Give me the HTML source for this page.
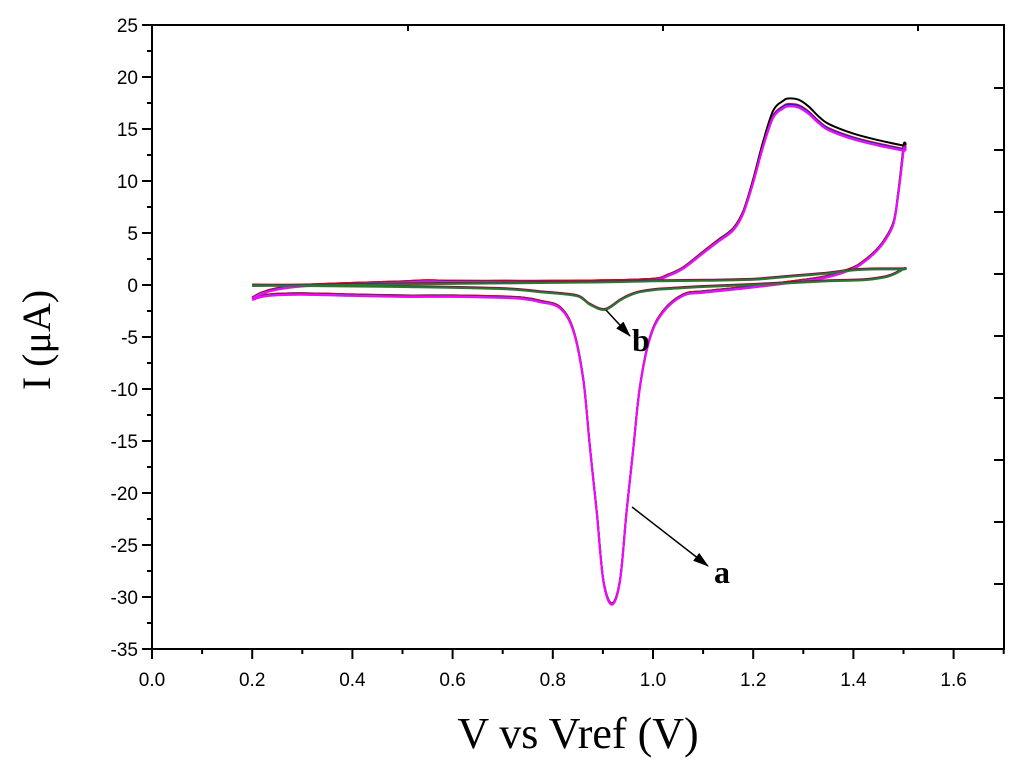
<!DOCTYPE html>
<html><head><meta charset="utf-8"><style>
body{margin:0;background:#fff}
.sans{font-family:"Liberation Sans",Arial,sans-serif}
.serif{font-family:"Liberation Serif","Times New Roman",serif}
</style></head><body>
<svg id="chart" width="1024" height="759" viewBox="0 0 1024 759" xmlns="http://www.w3.org/2000/svg">
<g id="axes"></g>
<g id="series"></g>
<g id="annot"></g>
</svg>
<script>
const xTicks=[0.0,0.2,0.4,0.6,0.8,1.0,1.2,1.4,1.6];
const yTicks=[25,20,15,10,5,0,-5,-10,-15,-20,-25,-30,-35];
// curve a: forward then reverse scan (V, µA)
const aV=[0.2,0.22,0.25,0.3,0.4,0.5,0.55,0.6,0.7,0.8,0.9,1.0,1.03,1.06,1.1,1.13,1.16,1.18,1.2,1.22,1.24,1.26,1.27,1.29,1.31,1.33,1.35,1.4,1.45,1.5,
  1.5,1.49,1.48,1.46,1.44,1.42,1.4,1.35,1.3,1.2,1.1,1.06,1.02,0.994,0.974,0.961,0.947,0.934,0.918,0.901,0.888,0.874,0.861,0.841,0.814,0.774,0.74,0.7,0.6,0.5,0.4,0.3,0.25,0.22,0.2];
const aI=[-1.2,-0.7,-0.3,0.0,0.2,0.35,0.45,0.4,0.4,0.4,0.45,0.6,1.0,1.7,3.2,4.3,5.4,7.0,10.0,13.5,16.3,17.2,17.4,17.3,16.7,15.8,15.1,14.2,13.6,13.1,
  13.1,9.0,6.0,4.2,3.1,2.3,1.7,0.9,0.5,-0.1,-0.6,-0.9,-2.5,-5.0,-9.7,-15.5,-21.9,-28.4,-30.6,-28.4,-21.9,-15.5,-9.1,-4.3,-2.1,-1.5,-1.2,-1.1,-1.0,-1.0,-0.9,-0.8,-0.85,-1.0,-1.3];
// curve b
const bV=[0.2,0.3,0.4,0.5,0.6,0.7,0.8,0.9,1.0,1.1,1.2,1.25,1.3,1.35,1.4,1.45,1.5,
  1.5,1.48,1.46,1.42,1.35,1.2,1.1,1.03,1.0,0.974,0.954,0.934,0.904,0.874,0.85,0.8,0.774,0.7,0.5,0.3,0.2];
const bI=[0.0,0.05,0.1,0.15,0.2,0.25,0.3,0.35,0.45,0.5,0.6,0.8,1.0,1.2,1.5,1.6,1.6,
  1.6,1.1,0.8,0.55,0.45,0.1,-0.1,-0.3,-0.4,-0.6,-0.9,-1.4,-2.3,-1.8,-1.0,-0.7,-0.6,-0.3,-0.1,0.0,0.05];

const NS="http://www.w3.org/2000/svg";
const X0=152,XS=501,Y0=285,YS=10.4,L=152,R=1004,T=25,B=649;
const px=v=>X0+v*XS, py=i=>Y0-i*YS;
function mk(t,a,p){const e=document.createElementNS(NS,t);for(const k in a)e.setAttribute(k,a[k]);(p||document.getElementById('axes')).appendChild(e);return e;}
const frame=mk('rect',{x:L,y:T,width:R-L,height:B-T,fill:'none',stroke:'#000','stroke-width':2});


xTicks.forEach(v=>{
  mk('line',{x1:px(v),x2:px(v),y1:B,y2:B+10,stroke:'#000','stroke-width':2});
  mk('line',{x1:px(v+0.1),x2:px(v+0.1),y1:B,y2:B+5,stroke:'#000','stroke-width':2});
  const t=mk('text',{x:px(v),y:B+37,'text-anchor':'middle','font-size':19,'class':'sans'});
  t.textContent=v.toFixed(1);
  
  
});
yTicks.forEach(v=>{
  mk('line',{x1:L-10,x2:L,y1:py(v),y2:py(v),stroke:'#000','stroke-width':2});
  if(v>-35)mk('line',{x1:L-5,x2:L,y1:py(v-2.5),y2:py(v-2.5),stroke:'#000','stroke-width':2});
  const t=mk('text',{x:L-14,y:py(v)+7,'text-anchor':'end','font-size':19,'class':'sans'});
  t.textContent=v;
  
  
});
for(let k=0;k<9;k++)mk('line',{x1:R-10,x2:R,y1:88+k*62,y2:88+k*62,stroke:'#000','stroke-width':2});
[918,918-255,918-510].forEach(x=>mk('line',{x1:x,x2:x,y1:T,y2:T+6,stroke:'#000','stroke-width':2}));
const yt=mk('text',{x:0,y:0,transform:'translate(50,340) rotate(-90)','text-anchor':'middle','font-size':40,'class':'serif'});
yt.textContent='I (μA)';


const xt=mk('text',{x:578,y:748,'text-anchor':'middle','font-size':44,'class':'serif'});
xt.textContent='V vs Vref (V)';



const sg=document.getElementById('series');
function path(V,I,color,dy,sc,name){
  const P=V.map((v,k)=>[px(v),py(I[k]*(1+(sc-1)*Math.max(0,I[k])/17))+dy]);
  let d='M'+P[0][0].toFixed(1)+' '+P[0][1].toFixed(1);
  for(let k=0;k<P.length-1;k++){
    const p0=P[Math.max(0,k-1)],p1=P[k],p2=P[k+1],p3=P[Math.min(P.length-1,k+2)];
    const c1=[p1[0]+(p2[0]-p0[0])/6,p1[1]+(p2[1]-p0[1])/6];
    const c2=[p2[0]-(p3[0]-p1[0])/6,p2[1]-(p3[1]-p1[1])/6];
    d+=' C'+c1[0].toFixed(1)+' '+c1[1].toFixed(1)+' '+c2[0].toFixed(1)+' '+c2[1].toFixed(1)+' '+p2[0].toFixed(1)+' '+p2[1].toFixed(1);
  }
  const p=mk('path',{d:d,fill:'none',stroke:color,'stroke-width':2,'stroke-linejoin':'round'},sg);
  
  
}
path(aV,aI,'#000',0,1.03,'curve-a-black');
path(aV,aI,'#e00',0,1.0,'curve-a-red');
path(aV,aI,'#22c',0.8,1.0,'curve-a-blue');
path(aV,aI,'#00bcd4',1.2,0.995,'curve-a-cyan');
path(aV,aI,'#f0f',1.5,0.995,'curve-a-magenta');
path(bV,bI,'#c00',0,1,'curve-b-red');
path(bV,bI,'#22c',0.6,1,'curve-b-blue');
path(bV,bI,'#2a7a2a',1,1,'curve-b-green');

const an=document.getElementById('annot');
mk('defs',{},an).innerHTML='<marker id="ah" markerWidth="16" markerHeight="10" refX="15" refY="5" orient="auto" markerUnits="userSpaceOnUse"><path d="M0,0 L16,5 L0,10 z" fill="#000"/></marker>';
const la=mk('line',{x1:632,y1:507,x2:708,y2:566,stroke:'#000','stroke-width':1.5,'marker-end':'url(#ah)'},an);


const ta=mk('text',{x:714,y:583,'font-size':32,'font-weight':'bold','class':'serif'},an);
ta.textContent='a';


const lb=mk('line',{x1:606,y1:310,x2:630,y2:336,stroke:'#000','stroke-width':1.5,'marker-end':'url(#ah)'},an);


const tb=mk('text',{x:632,y:351,'font-size':32,'font-weight':'bold','class':'serif'},an);
tb.textContent='b';


</script>
</body></html>
